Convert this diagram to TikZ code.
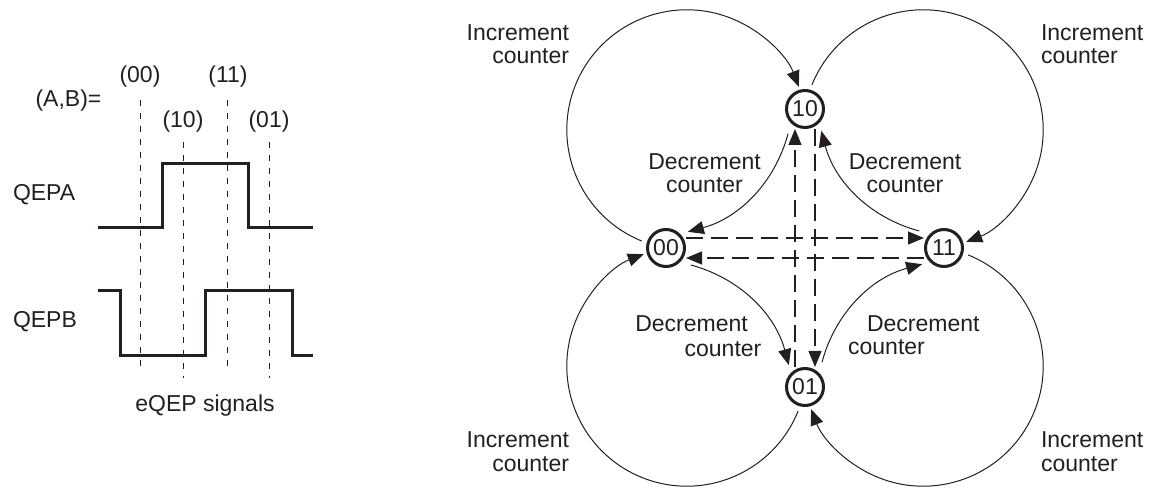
\documentclass[tikz,border=0pt]{standalone}
\usepackage{fontspec}
\setmainfont{Liberation Sans}
\usetikzlibrary{arrows.meta,calc}
\definecolor{ink}{RGB}{35,31,32}
\begin{document}
\begin{tikzpicture}[x=1pt,y=1pt,
  every node/.style={inner sep=0pt, outer sep=0pt, text=ink, font=\fontsize{23}{23}\selectfont},
  state/.style={circle, draw=ink, line width=3pt, minimum size=37pt, inner sep=0pt, outer sep=1.5pt},
  tip/.style={-{Triangle[length=16pt,width=13pt]}},
  inc/.style={draw=ink, line width=1pt, tip},
  dec/.style={draw=ink, line width=1pt, tip, shorten <=11pt, shorten >=8pt},
  dsh/.style={draw=ink, line width=1.2pt, dash pattern=on 17pt off 8pt, tip},
  guide/.style={draw=ink, line width=1pt, dash pattern=on 6pt off 7pt},
  wave/.style={draw=ink, line width=3pt, line join=miter}]
\useasboundingbox (0,0) rectangle (1153,487);

% ---------- left: eQEP signals ----------
\node[anchor=base] (ab) at (68.5,380.5) {(A,B)=};
\node[anchor=base] (s00) at (140,404) {(00)};
\node[anchor=base] (s11) at (228,404) {(11)};
\node[anchor=base] (s10) at (183,359) {(10)};
\node[anchor=base] (s01) at (269,359) {(01)};
\node[anchor=base west] (qa) at (13,286) {QEPA};
\node[anchor=base west] (qb) at (13,159) {QEPB};
\node[anchor=base] (sig) at (205,75) {eQEP signals};

\draw[guide] (140,387) -- (140,115);
\draw[guide] (183,345) -- (183,109);
\draw[guide] (227,387) -- (227,115);
\draw[guide] (269,345) -- (269,109);

\draw[wave] (98,259) -- (162,259) -- (162,323) -- (248,323) -- (248,259) -- (313,259);
\draw[wave] (98,196) -- (120,196) -- (120,131) -- (205,131) -- (205,196) -- (292,196) -- (292,131) -- (313,131);

% ---------- right: state diagram ----------
\node[state] (n10) at (805,378) {10};
\node[state] (n01) at (805,100) {01};
\node[state] (n00) at (666,239) {00};
\node[state] (n11) at (944,239) {11};

\coordinate (c1) at (686.8,357.2);
\coordinate (c2) at (923.2,357.2);
\coordinate (c3) at (686.8,120.8);
\coordinate (c4) at (923.2,120.8);

\draw[inc] ($(c1)+(248:120)$) arc[start angle=248,end angle=21,radius=120];
\draw[inc] ($(c2)+(158:120)$) arc[start angle=158,end angle=-69,radius=120];
\draw[inc] ($(c4)+(68:120)$) arc[start angle=68,end angle=-159,radius=120];
\draw[inc] ($(c3)+(-22:120)$) arc[start angle=-22,end angle=-249,radius=120];

\draw[dec] (n10.225) to[bend left=30] (n00.45);
\draw[dec] (n11.135) to[bend left=30] (n10.-45);
\draw[dec] (n01.45) to[bend left=30] (n11.-135);
\draw[dec] (n00.-45) to[bend left=30] (n01.135);

\draw[dsh] ([xshift=-10pt]n01.north) -- ([xshift=-10pt]n10.south);
\draw[dsh] ([xshift=10pt]n10.south) -- ([xshift=10pt]n01.north);
\draw[dsh] ([yshift=10pt]n00.east) -- ([yshift=10pt]n11.west);
\draw[dsh] ([yshift=-10pt]n11.west) -- ([yshift=-10pt]n00.east);

% labels
\node[anchor=base east] (it1) at (569,446) {Increment};
\node[anchor=base east] (it2) at (569,423) {counter};
\node[anchor=base west] (ir1) at (1041,446) {Increment};
\node[anchor=base west] (ir2) at (1041,423) {counter};
\node[anchor=base east] (ib1) at (569,39) {Increment};
\node[anchor=base east] (ib2) at (569,16) {counter};
\node[anchor=base west] (iq1) at (1041,39) {Increment};
\node[anchor=base west] (iq2) at (1041,16) {counter};

\node[anchor=base] (d1a) at (704.5,317) {Decrement};
\node[anchor=base] (d1b) at (704.5,294) {counter};
\node[anchor=base] (d2a) at (905,317) {Decrement};
\node[anchor=base] (d2b) at (905,294) {counter};
\node[anchor=base] (d3a) at (691.5,155) {Decrement};
\node[anchor=base] (d3b) at (723,130) {counter};
\node[anchor=base] (d4a) at (923.3,155) {Decrement};
\node[anchor=base] (d4b) at (886.5,132) {counter};
\end{tikzpicture}
\end{document}
